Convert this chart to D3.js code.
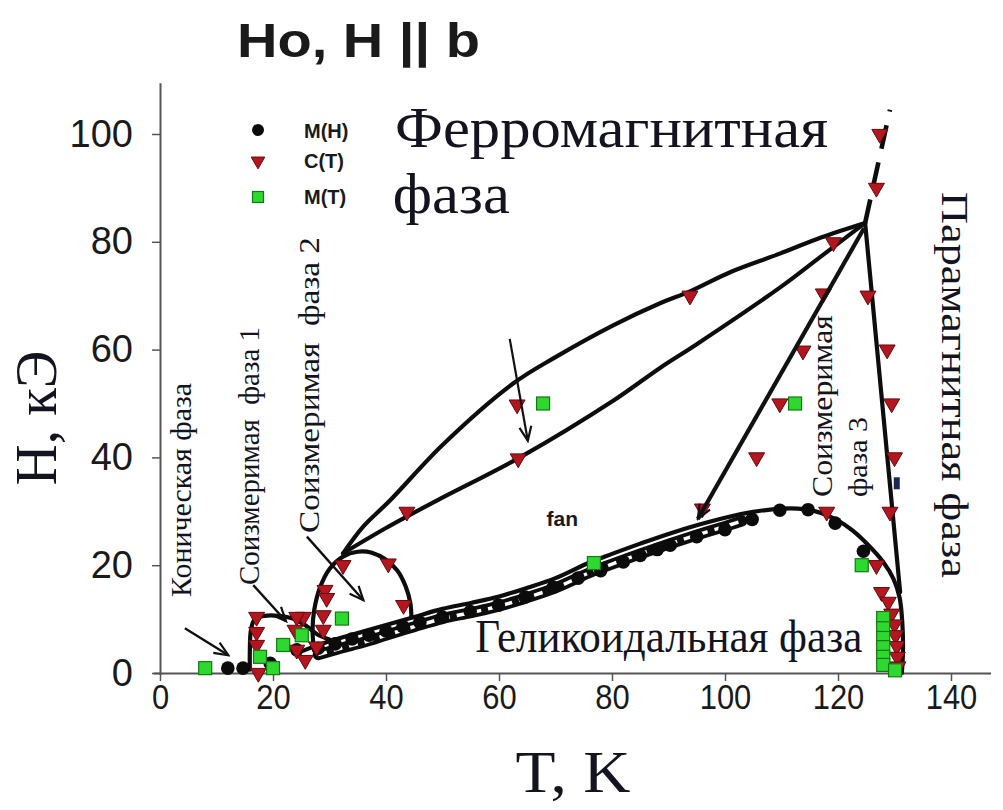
<!DOCTYPE html>
<html>
<head>
<meta charset="utf-8">
<script src="https://cdn.jsdelivr.net/npm/d3@7"></script>
<style>
  html, body { margin: 0; padding: 0; background: #fff; }
  svg { display: block; }
  .serif { font-family: "Liberation Serif", "Times New Roman", serif; fill: #141420; }
  .sans  { font-family: "Liberation Sans", Arial, sans-serif; fill: #1a1a1a; }
</style>
</head>
<body>
<script>
// ---- axis ticks ----
const T_TICKS = [0, 20, 40, 60, 80, 100, 120, 140];
const H_TICKS = [0, 20, 40, 60, 80, 100];

// ---- measured points: [T (K), H (kOe)] ----
const M_H = [
  [12, 0.9], [14.7, 0.9], [19.5, 1.8], [24.2, 4.3], [28, 4.6], [31, 5.4], [34, 6.3],
  [37, 7.0], [40, 7.8], [43, 8.6], [46, 9.4], [50, 10.4], [54.9, 11.4], [59.9, 12.6],
  [64.6, 14.1], [69.6, 15.9], [74, 17.6], [78, 19.0], [82, 20.6], [85, 21.8],
  [88, 22.9], [90.3, 23.7], [95, 25.3], [100, 26.6], [104.8, 28.5], [109.7, 30.2],
  [114.7, 30.3], [119.5, 27.8], [124.5, 22.6]
];
const C_T = [
  [127.4, 100], [126.8, 90], [119.2, 79.9], [93.8, 70], [117.4, 70.4], [125.3, 70],
  [113.8, 59.8], [128.7, 60], [63.2, 49.8], [109.7, 50], [129.5, 50], [63.4, 39.8],
  [105.6, 40], [130, 40], [43.7, 29.9], [96, 30.5], [118, 29.9], [129.2, 29.9],
  [32.4, 20], [40.4, 20.3], [126.8, 20], [127.7, 15], [128.9, 13.2], [29.2, 15.4],
  [29.5, 13.9], [43.1, 12.6], [25.4, 10.4], [28.9, 10.7], [17.1, 10.4], [24.2, 10.4],
  [17.1, 7.6], [23.9, 8], [28.9, 8], [17.1, 5.2], [24.2, 4.3], [27.7, 4.9],
  [25.7, 2.4], [17.4, 0], [129.5, 11], [130, 9], [130.2, 7], [130.4, 5],
  [130.5, 3], [130.6, 1.2]
];
const M_T = [
  [8, 0.9], [17.7, 3], [20, 0.9], [21.8, 5.2], [25.1, 7], [32.2, 10.1],
  [67.8, 50], [76.8, 20.4], [112.4, 50], [124.2, 20],
  [128, 10.2], [128, 8.3], [128, 6.5], [128, 4.8], [128, 3], [128, 1.5], [130.1, 0.5]
];
const OTHER = [[130.4, 35.2]];

// ---- phase boundaries ----
const helixBoundary = [
  [24.5, 3.8], [27, 4.8], [30, 5.9], [35, 7.4], [40, 8.9], [45, 10.4], [50, 11.9],
  [55, 13], [60, 14.2], [65, 15.8], [70, 17.6], [76, 20.5], [80, 22.1], [85, 24],
  [90, 25.8], [95, 27.4], [100, 28.8], [105, 29.9], [110, 30.5], [114, 30.4],
  [117, 29.7], [120, 28.3], [122.5, 26.5], [125.3, 23.8], [128, 20.6], [129.8, 17.5],
  [130.9, 14], [131.4, 9], [131.5, 4], [131.3, 0]
];
const helixSweep = [
  [28, 3.4], [32, 4.6], [36, 5.7], [40, 7.0], [45, 8.6], [50, 10.1], [55, 11.2],
  [60, 12.4], [65, 14.0], [70, 15.8], [76, 18.6], [80, 20.2], [85, 22.1], [90, 23.9],
  [95, 25.6], [100, 27.2], [103, 28.2]
];
const lensUpper = [
  [32.4, 22.2], [36, 27.2], [40.7, 32], [50, 42.3], [62.5, 53.7], [70, 58.6],
  [80.2, 64.5], [88.5, 68.6], [93.8, 70.8], [101, 74.4], [109.7, 77.8], [117, 80.8],
  [124.8, 83.5]
];
const lensLower = [
  [32.4, 22.2], [40, 26.9], [49, 32], [63.7, 40], [80.2, 50.5], [88.5, 56.6],
  [95, 61], [109.7, 71.5], [117, 77.3], [124.8, 83.5]
];
const paraBoundary = [[124.8, 83.5], [131.0, 15]];
const paraDashed = [[124.8, 83.5], [129.2, 104.5]];
const dome1 = [
  [15.9, 0.6], [15.9, 4], [16.1, 8], [16.8, 10], [18.5, 10.6], [21, 10.6],
  [23.5, 10.1], [25.8, 8.8], [27.8, 7.2], [30, 6.2]
];
const dome2 = [
  [27.2, 4.8], [27, 8], [27.3, 11.7], [28.3, 15.8], [30, 19.3], [32.4, 21.6],
  [35, 22.5], [37.5, 22.3], [40, 21], [42, 19], [43.5, 16], [44.3, 13], [44.5, 10.3]
];

// ---- pointer arrows: [from, to] ----
const arrowConical = [[4.4, 8.3], [12.1, 3.3]];
const arrowPhase1 = [[16.5, 16.3], [22.3, 9.6]];
const arrowPhase2 = [[26, 25.3], [36, 13.5]];
const arrowFan = [[61.9, 62], [65.1, 43.1]];
const arrowPhase3 = [[124.6, 82.5], [95.2, 28.6]];

// ---- layout ----
const W = 1003, H = 810;
const pxPerK = 5.65, pxPerKOe = 5.39;
const x0 = 160, y0 = 673;
const x = d3.scaleLinear().domain([-1.2, 147]).range([x0 - 1.2 * pxPerK, x0 + 147 * pxPerK]);
const y = d3.scaleLinear().domain([-0.3, 109.5]).range([y0 + 0.3 * pxPerKOe, y0 - 109.5 * pxPerKOe]);

const svg = d3.select("body").append("svg").attr("width", W).attr("height", H);
svg.append("rect").attr("width", W).attr("height", H).attr("fill", "#fff");

const defs = svg.append("defs");
defs.append("marker")
  .attr("id", "vhead").attr("viewBox", "-16 -9 18 18")
  .attr("markerUnits", "userSpaceOnUse").attr("markerWidth", 18).attr("markerHeight", 18)
  .attr("refX", 0).attr("refY", 0).attr("orient", "auto")
  .append("path").attr("d", "M-14,-6 L0,0 L-14,6")
  .attr("fill", "none").attr("stroke", "#111").attr("stroke-width", 2.2);

// ---- axes ----
const xAxis = svg.append("g").attr("transform", `translate(0,${y0})`)
  .call(d3.axisBottom(x).tickValues(T_TICKS).tickSize(8).tickPadding(2).tickSizeOuter(0));
xAxis.select(".domain").attr("stroke", "#555").attr("stroke-width", 2);
xAxis.selectAll(".tick line").attr("stroke", "#555").attr("stroke-width", 1.5);
xAxis.selectAll(".tick text")
  .attr("class", "sans").attr("font-size", 36).attr("fill", "#1a1a1a")
  .attr("transform", "scale(0.86,1)");

const yAxis = svg.append("g").attr("transform", `translate(${x0},0)`)
  .call(d3.axisLeft(y).tickValues(H_TICKS).tickSize(8).tickPadding(19).tickSizeOuter(0));
yAxis.select(".domain").attr("stroke", "#555").attr("stroke-width", 2);
yAxis.selectAll(".tick line").attr("stroke", "#555").attr("stroke-width", 1.5);
yAxis.selectAll(".tick text")
  .attr("class", "sans").attr("font-size", 38).attr("fill", "#1a1a1a");

// ---- boundary curves ----
const smooth = d3.line().x(d => x(d[0])).y(d => y(d[1])).curve(d3.curveCatmullRom.alpha(0.5));
const straight = d3.line().x(d => x(d[0])).y(d => y(d[1]));
const curves = svg.append("g").attr("fill", "none").attr("stroke", "#0d0d0d")
  .attr("stroke-linecap", "round").attr("stroke-linejoin", "round");

// field-sweep trace under the helicoid boundary
curves.append("path").attr("d", smooth(helixSweep)).attr("stroke-width", 11);
curves.append("path").attr("d", smooth(helixSweep)).attr("stroke", "#fff")
  .attr("stroke-width", 3.5).attr("stroke-dasharray", "9,7").attr("stroke-linecap", "butt");

[helixBoundary, lensUpper, lensLower, dome1, dome2].forEach(c =>
  curves.append("path").attr("d", smooth(c)).attr("stroke-width", 4.2));
curves.append("path").attr("d", straight(paraBoundary)).attr("stroke-width", 4.2);
curves.append("path").attr("d", straight(paraDashed)).attr("stroke-width", 4.6)
  .attr("stroke-dasharray", "24,14").attr("stroke-linecap", "butt");

// ---- measured points ----
const pts = svg.append("g");
pts.selectAll("circle.mh").data(M_H).join("circle").attr("class", "mh")
  .attr("cx", d => x(d[0])).attr("cy", d => y(d[1])).attr("r", 6.8).attr("fill", "#0b0b0b");

const triPath = d3.symbol(d3.symbolTriangle, 110)();
pts.selectAll("path.ct").data(C_T).join("path").attr("class", "ct")
  .attr("d", triPath)
  .attr("transform", d => `translate(${x(d[0])},${y(d[1])}) rotate(180)`)
  .attr("fill", "#b3161f").attr("stroke", "#64090d").attr("stroke-width", 1);

const sq = 13;
pts.selectAll("rect.mt").data(M_T).join("rect").attr("class", "mt")
  .attr("x", d => x(d[0]) - sq / 2).attr("y", d => y(d[1]) - sq / 2)
  .attr("width", sq).attr("height", sq)
  .attr("fill", "#2fd82f").attr("stroke", "#137a13").attr("stroke-width", 1.2);

pts.selectAll("rect.ot").data(OTHER).join("rect").attr("class", "ot")
  .attr("x", d => x(d[0]) - 3).attr("y", d => y(d[1]) - 6)
  .attr("width", 6).attr("height", 12).attr("fill", "#1b2a55");

// ---- arrows ----
const arrows = svg.append("g").attr("fill", "none").attr("stroke", "#111");
[[arrowConical, 2.4], [arrowPhase1, 2.4], [arrowPhase2, 2.4], [arrowFan, 2.2], [arrowPhase3, 4.2]]
  .forEach(([a, w]) => arrows.append("path").attr("d", straight(a))
    .attr("stroke-width", w).attr("marker-end", "url(#vhead)"));

// ---- legend ----
const legend = svg.append("g");
legend.append("circle").attr("cx", 258).attr("cy", 130).attr("r", 6).attr("fill", "#0b0b0b");
legend.append("path").attr("d", d3.symbol(d3.symbolTriangle, 80)())
  .attr("transform", "translate(258,161) rotate(180)")
  .attr("fill", "#b3161f").attr("stroke", "#64090d");
legend.append("rect").attr("x", 252.5).attr("y", 191.5).attr("width", 11).attr("height", 11)
  .attr("fill", "#2fd82f").attr("stroke", "#137a13").attr("stroke-width", 1.2);
[["M(H)", 138], ["C(T)", 168], ["M(T)", 204]].forEach(([t, by]) =>
  legend.append("text").attr("class", "sans").attr("x", 304).attr("y", by)
    .attr("font-size", 20).attr("font-weight", "bold").text(t));

// ---- titles and phase labels ----
function label(txt, px, py, size, opts = {}) {
  const t = svg.append("text").attr("class", opts.cls || "serif")
    .attr("font-size", size).attr("x", 0).attr("y", 0)
    .style("white-space", "pre").text(txt);
  if (opts.bold) t.attr("font-weight", "bold");
  if (opts.anchor) t.attr("text-anchor", opts.anchor);
  if (opts.len) t.attr("textLength", opts.len).attr("lengthAdjust", "spacingAndGlyphs");
  const rot = opts.rot ? ` rotate(${opts.rot})` : "";
  const sc = opts.sy ? ` scale(1,${opts.sy})` : "";
  t.attr("transform", `translate(${px},${py})${rot}${sc}`);
  return t;
}

label("Ho, H || b", 237, 57, 48, { cls: "sans", bold: true, len: 243 });
label("Ферромагнитная", x(41.6), y(97.6), 52, { len: 433, sy: 1.1 });
label("фаза", x(41.2), y(85.4), 52, { len: 117, sy: 1.1 });
label("fan", x(71.2), y(27.2), 21, { cls: "sans", bold: true, anchor: "middle" });
label("Геликоидальная фаза", x(55.8), y(3.9), 40, { len: 387, sy: 1.15 });
label("Парамагнитная фаза", 942, 192, 38, { rot: 90, len: 386 });
label("Коническая фаза", 191, 597, 30, { rot: -90, len: 214 });
label("Соизмеримая  фаза 1", 259, 585, 29, { rot: -90, len: 258 });
label("Соизмеримая  фаза 2", 319, 533, 29, { rot: -90, len: 296 });
label("Соизмеримая", 832, 497, 29, { rot: -90, len: 182 });
label("фаза 3", 867, 497, 28, { rot: -90, len: 80 });

// axis titles
label("H, кЭ", 56, 418, 60, { rot: -90, anchor: "middle", len: 135 });
label("T, K", 573, 792, 54, { anchor: "middle", len: 115, sy: 1.1 });
</script>
</body>
</html>
